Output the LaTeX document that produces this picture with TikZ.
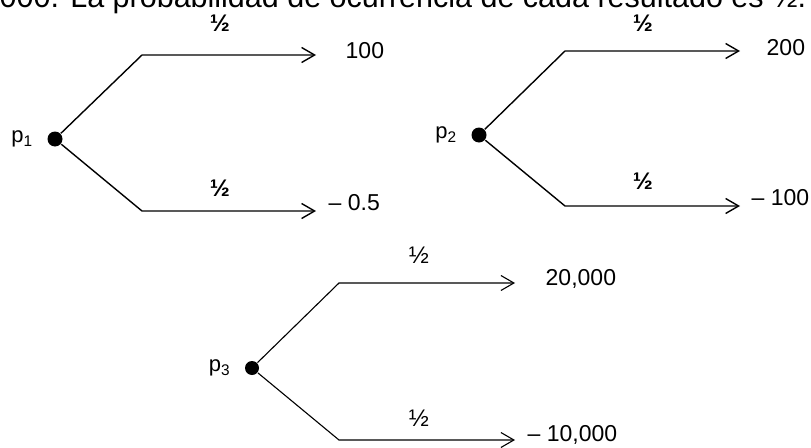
\documentclass[tikz,border=0pt]{standalone}
\usepackage{fontspec}
\setmainfont{Liberation Sans}
\usetikzlibrary{arrows.meta,positioning}

\begin{document}
\begin{tikzpicture}[x=1pt,y=-1pt,line width=1.4pt,
 >={Straight Barb[length=13pt,width=15pt]},
 dot/.style={circle,fill,inner sep=0pt,minimum size=15pt},
 val/.style={anchor=base west,inner sep=0pt,font=\fontsize{23}{23}\selectfont},
 prob/.style={font=\fontsize{24}{24}\selectfont\bfseries},
 lab/.style={font=\fontsize{22}{22}\selectfont}]
\useasboundingbox (0,0) rectangle (811,447);
\clip (0,0) rectangle (811,447);
\node[anchor=base west,inner sep=0pt,font=\fontsize{30.5}{30.5}\selectfont] (head) at (-1,8)
 {000. La probabilidad de ocurrencia de cada resultado es ½.};
% p1
\node[dot] (d1) at (55,139) {};
\node[lab,left=10pt of d1] (p1) {p\textsubscript{1}};
\coordinate (u1) at (142,55);
\coordinate (t1) at (316,55);
\coordinate (l1) at (142,211);
\coordinate (b1) at (316,211);
\draw[->] (d1) -- (u1) -- (t1);
\draw[->] (d1) -- (l1) -- (b1);
\node[val] (v1a) at (345,58) {100};
\node[val] (v1b) at (328,210) {– 0.5};
\node[prob] (q1a) at (220,23) {½};
\node[prob] (q1b) at (220,188) {½};
% p2
\node[dot] (d2) at (479,135) {};
\node[lab,left=10pt of d2] (p2) {p\textsubscript{2}};
\coordinate (u2) at (565,51);
\coordinate (t2) at (740,51);
\coordinate (l2) at (565,206);
\coordinate (b2) at (740,206);
\draw[->] (d2) -- (u2) -- (t2);
\draw[->] (d2) -- (l2) -- (b2);
\node[val] (v2a) at (766,55) {200};
\node[val] (v2b) at (751,205) {– 100};
\node[prob] (q2a) at (643,23) {½};
\node[prob] (q2b) at (643,181) {½};
% p3
\node[dot,minimum size=14pt] (d3) at (252,368) {};
\node[lab,left=10pt of d3] (p3) {p\textsubscript{3}};
\coordinate (u3) at (339,283);
\coordinate (t3) at (515,283);
\coordinate (l3) at (339,440);
\coordinate (b3) at (515,440);
\draw[->,line width=1.1pt] (d3) -- (u3) -- (t3);
\draw[->,line width=1.1pt] (d3) -- (l3) -- (b3);
\node[val] (v3a) at (545,285) {20,000};
\node[val] (v3b) at (527,441) {– 10,000};
\node[prob,font=\fontsize{24}{24}\selectfont] (q3a) at (419,255) {½};
\node[prob,font=\fontsize{24}{24}\selectfont] (q3b) at (419,418) {½};
\end{tikzpicture}
\end{document}
